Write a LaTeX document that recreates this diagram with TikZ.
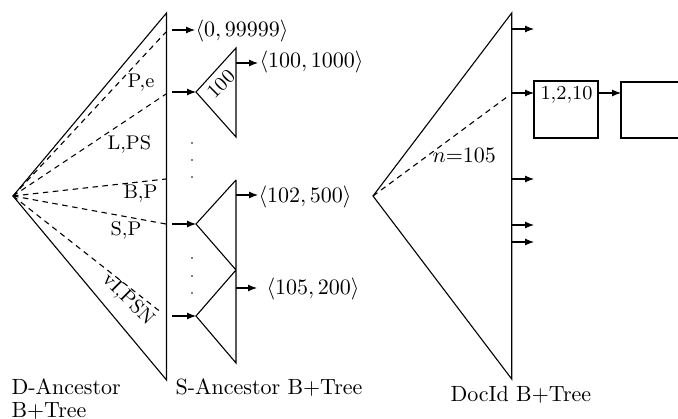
\documentclass[tikz,border=0pt]{standalone}
\usepackage{graphicx}
\usetikzlibrary{arrows.meta}
\newcommand\sx[1]{\scalebox{2.2}{#1}}
\begin{document}
\begin{tikzpicture}[x=1pt,y=-1pt,line width=1.1pt,
  big/.style={inner sep=0pt,anchor=base west,font=\normalsize},
  lab/.style={inner sep=0pt,anchor=base west,font=\small},
  rlab/.style={inner sep=0pt,font=\small},
  ptr/.style={-{Latex[length=9pt,width=7pt]}},
  dashln/.style={dash pattern=on 5.5pt off 4.5pt},
  dotm/.style={circle,fill,inner sep=0pt,minimum size=1.6pt}]
\useasboundingbox (0,0) rectangle (678,419);
% ---------- D-Ancestor tree
\coordinate (A) at (13,196);
\coordinate (AT) at (166.5,13);
\coordinate (AB) at (166.5,380);
\draw (AT) -- (A) -- (AB) -- cycle;
\coordinate (d1) at (166,32);
\coordinate (d2) at (166,94);
\coordinate (d3) at (166,179);
\coordinate (d4) at (166,224);
\coordinate (d5) at (162,313);
\foreach \p in {d1,d2,d3,d4,d5} \draw[dashln] (A) -- (\p);
\node[lab] (lpe) at (127,88) {\sx{P,e}};
\node[lab] (llps) at (107,150) {\sx{L,PS}};
\node[lab] (lbp) at (123,199) {\sx{B,P}};
\node[lab] (lsp) at (110,236) {\sx{S,P}};
\node[rlab,rotate=-45] (lv) at (128,300) {\sx{vI,PSN}};
% pointers out of D-Ancestor
\coordinate (p1s) at (172,30);
\coordinate (p1e) at (195,30);
\draw[ptr] (p1s) -- (p1e);
\node[big] (k1) at (195,37) {\sx{$\langle 0, 99999\rangle$}};
% ---------- S-Ancestor trees
\coordinate (s1a) at (196,92);
\coordinate (s1t) at (236,48);
\coordinate (s1b) at (236,137);
\draw (s1t) -- (s1a) -- (s1b) -- cycle;
\node[rlab,rotate=45] (l100) at (221,84) {\sx{100}};
\coordinate (p2s) at (172,92);
\draw[ptr] (p2s) -- (s1a);
\coordinate (o1s) at (236,63);
\coordinate (o1e) at (258,63);
\draw[ptr] (o1s) -- (o1e);
\node[big] (k2) at (259,68) {\sx{$\langle 100, 1000\rangle$}};
\coordinate (s2a) at (196,224);
\coordinate (s2t) at (236,180);
\coordinate (s2m) at (236,270);
\coordinate (s3a) at (196,316);
\coordinate (s3b) at (236,363);
\draw (s2t) -- (s2a) -- (s2m) -- (s3a) -- (s3b) -- (s2t);
\coordinate (p3s) at (172,224);
\draw[ptr] (p3s) -- (s2a);
\coordinate (p4s) at (172,316);
\draw[ptr] (p4s) -- (s3a);
\coordinate (o2s) at (236,195);
\coordinate (o2e) at (258,195);
\draw[ptr] (o2s) -- (o2e);
\node[big] (k3) at (258,203) {\sx{$\langle 102, 500\rangle$}};
\coordinate (o3s) at (236,288);
\coordinate (o3e) at (257,288);
\draw[ptr] (o3s) -- (o3e);
\node[big] (k4) at (266,295) {\sx{$\langle 105, 200\rangle$}};
\foreach \yy [count=\i] in {143,160,177,258,276,293}
  \node[dotm] (dot\i) at (192,\yy) {};
% ---------- DocId tree
\coordinate (R) at (373,196);
\coordinate (RT) at (511.7,13);
\coordinate (RB) at (511.7,379);
\draw (RT) -- (R) -- (RB) -- cycle;
\coordinate (rd) at (507,97);
\draw[dashln] (R) -- (rd);
\node[big] (ln) at (432,163) {\sx{$n{=}105$}};
\foreach \yy [count=\i] in {29,93,179,225,242}{
  \coordinate (rs\i) at (511.7,\yy);
  \coordinate (re\i) at (534,\yy);
  \draw[ptr] (rs\i) -- (re\i);
}
\coordinate (b1tl) at (534,81);
\coordinate (b1br) at (598,138);
\draw (b1tl) rectangle (b1br);
\node[lab] (l1210) at (540,100) {\sx{1,2,10}};
\coordinate (b1o) at (598,93);
\coordinate (b2i) at (621,93);
\draw[ptr] (b1o) -- (b2i);
\coordinate (b2a) at (678,82);
\coordinate (b2b) at (621,82);
\coordinate (b2c) at (621,138);
\coordinate (b2d) at (678,138);
\draw (b2a) -- (b2b) -- (b2c) -- (b2d);
% ---------- captions
\node[big] (cap1) at (11,395) {\sx{D-Ancestor}};
\node[big] (cap1b) at (11,417.5) {\sx{B+Tree}};
\node[big] (cap2) at (175,395) {\sx{S-Ancestor B+Tree}};
\node[big] (cap3) at (450,402) {\sx{DocId B+Tree}};
\end{tikzpicture}
\end{document}
